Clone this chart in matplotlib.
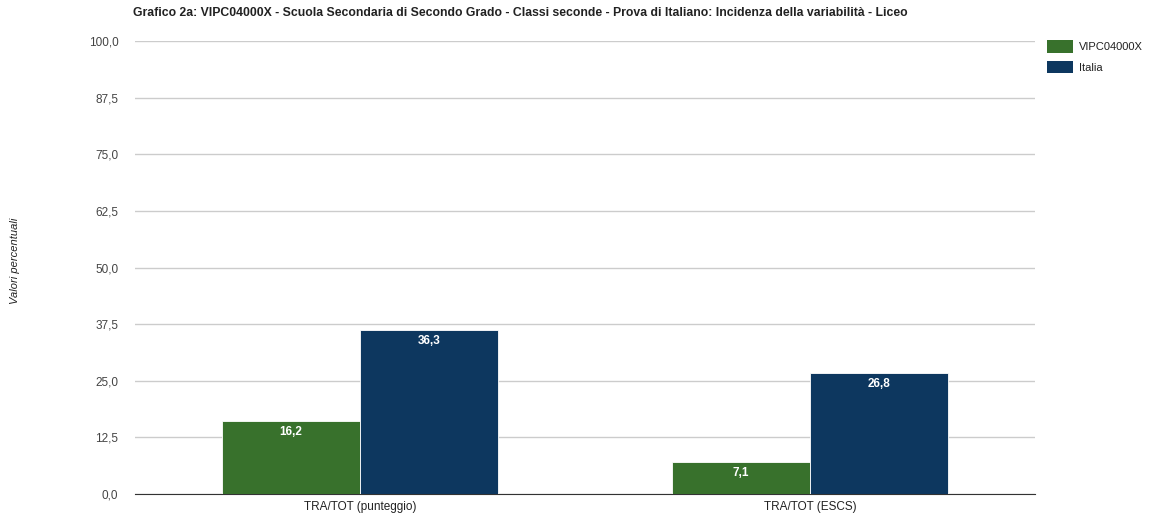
import matplotlib.pyplot as plt
import numpy as np
from matplotlib.patches import Patch

categories = ["TRA/TOT (punteggio)", "TRA/TOT (ESCS)"]
series_names = ["VIPC04000X", "Italia"]
scuola = [16.2, 7.1]
italia = [36.3, 26.8]
yticks = [0, 12.5, 25, 37.5, 50, 62.5, 75, 87.5, 100]

colors = ["#38712c", "#0d375f"]

plt.rcParams["font.family"] = ["Liberation Sans", "DejaVu Sans"]

fig = plt.figure(figsize=(11.51, 5.22), dpi=100)
ax = fig.add_axes([135 / 1151, 1 - 494 / 522, 900 / 1151, 453 / 522])

x = np.arange(len(categories)) + 0.5
w = 0.307
for i, (vals, c) in enumerate(zip([scuola, italia], colors)):
    pos = x + (i - 0.5) * w
    bars = ax.bar(pos, vals, width=w, color=c, edgecolor="white", linewidth=0.6, zorder=3)
    for b, v in zip(bars, vals):
        ax.text(b.get_x() + b.get_width() / 2, v - 1.2, f"{v:.1f}".replace(".", ","),
                ha="center", va="top", color="white", fontsize=8.5, fontweight="bold", zorder=4)

ax.set_xlim(0, 2)
ax.set_ylim(0, 100)
ax.set_yticks(yticks)
ax.set_yticklabels([f"{t:.1f}".replace(".", ",") for t in yticks], fontsize=8.5, color="#444444")
ax.set_xticks(x)
ax.set_xticklabels(categories, fontsize=8.5, color="#222222")
ax.grid(axis="y", color="#cccccc", linewidth=1, zorder=0)
for s in ["top", "right", "left"]:
    ax.spines[s].set_visible(False)
ax.spines["bottom"].set_color("#333333")
ax.tick_params(axis="y", length=0, pad=12)
ax.tick_params(axis="x", length=0, pad=5)

fig.text(15 / 1151, 0.5, "Valori percentuali", rotation=90, ha="center", va="center",
         fontsize=8, style="italic", color="#222222")
fig.text(133 / 1151, 1 - 13 / 522,
         "Grafico 2a: VIPC04000X - Scuola Secondaria di Secondo Grado - Classi seconde - "
         "Prova di Italiano: Incidenza della variabilità - Liceo",
         ha="left", va="center", fontsize=8.8, fontweight="bold", color="#222222")

handles = [Patch(facecolor=c) for c in colors]
fig.legend(handles, series_names, loc="upper left", bbox_to_anchor=(1043 / 1151, 1 - 36 / 522),
           frameon=False, fontsize=8, handlelength=2.3, handleheight=1.3,
           handletextpad=0.5, labelspacing=0.75, labelcolor="#222222",
           borderaxespad=0, borderpad=0.4)

fig.savefig("out.png", dpi=100)
